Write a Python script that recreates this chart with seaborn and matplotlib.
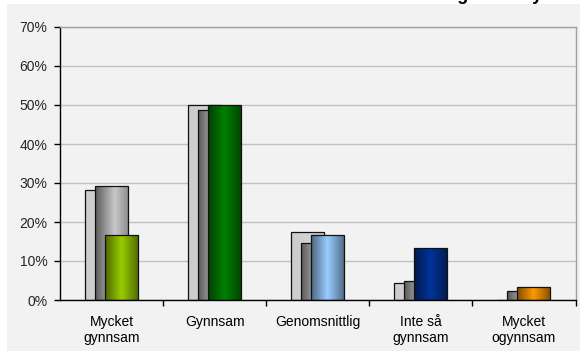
import numpy as np
import pandas as pd
import matplotlib
matplotlib.use('Agg')
import matplotlib.pyplot as plt
import seaborn as sns
from matplotlib.patches import Rectangle
from matplotlib.ticker import PercentFormatter, FixedLocator

# Data
categories = ["Mycket\ngynnsam", "Gynnsam", "Genomsnittlig", "Inte så\ngynnsam", "Mycket\nogynnsam"]
series_light = [0.282, 0.500, 0.174, 0.043, 0.000]
series_dark = [0.292, 0.487, 0.145, 0.049, 0.023]
series_color = [0.166, 0.500, 0.167, 0.133, 0.033]
category_colors = ["#99cc00", "#008000", "#99ccff", "#003399", "#ff9900"]

sns.set_style("white")
plt.rcParams['font.family'] = ['Liberation Sans', 'DejaVu Sans']

fig = plt.figure(figsize=(5.8, 3.51), dpi=100, facecolor='white')
# grey chart panel
fig.add_artist(Rectangle((7 / 580, 0), 1 - 7 / 580, 347 / 351, transform=fig.transFigure,
                         facecolor='#f2f2f2', edgecolor='none', zorder=-1))
ax = fig.add_axes([60 / 580, 51 / 351, 515.5 / 580, 273 / 351])
ax.set_facecolor('#f2f2f2')


def shade(color, profile):
    rgb = np.array(matplotlib.colors.to_rgb(color))
    t = np.linspace(0, 1, 64)
    f = np.interp(t, profile[0], profile[1])
    return np.clip(rgb[None, :] * f[:, None], 0, 1)[None, :, :]


def draw_series(values, offset, zbase, profile, color=None, palette=None):
    before = len(ax.patches)
    df = pd.DataFrame({'cat': categories, 'val': values})
    if palette is None:
        sns.barplot(data=df, x='cat', y='val', color=color, width=0.32,
                    order=categories, ax=ax, saturation=1)
    else:
        sns.barplot(data=df, x='cat', y='val', hue='cat', palette=palette,
                    width=0.32, order=categories, hue_order=categories,
                    legend=False, ax=ax, saturation=1)
    for p in ax.patches[before:]:
        p.set_x(p.get_x() + offset)
        face = p.get_facecolor()
        x0, w, h = p.get_x(), p.get_width(), p.get_height()
        if h > 0:
            im = ax.imshow(shade(face, profile), extent=[x0, x0 + w, 0, h],
                           aspect='auto', zorder=zbase, interpolation='bilinear')
            im.set_clip_path(p)
        p.set_facecolor('none')
        p.set_edgecolor('#111111')
        p.set_linewidth(0.9)
        p.set_zorder(zbase + 0.05)


draw_series(series_light, -0.097, 2.0, ([0, 0.5, 1], [0.97, 1.0, 0.95]), color='#d2d2d2')
draw_series(series_dark, 0.0, 2.2, ([0, 0.6, 1], [0.45, 1.0, 0.72]), color='#c8c8c8')
draw_series(series_color, 0.097, 2.4, ([0, 0.5, 1], [0.5, 1.0, 0.55]), palette=category_colors)

ax.set_xlim(-0.5, 4.5)
ax.set_ylim(0, 0.7)
ax.set_xlabel('')
ax.set_ylabel('')

ax.yaxis.set_major_locator(FixedLocator(np.arange(0, 0.71, 0.1)))
ax.yaxis.set_major_formatter(PercentFormatter(1.0, decimals=0))
ax.grid(axis='y', color='#c0c0c0', linewidth=1)
ax.set_axisbelow(True)

ax.xaxis.set_minor_locator(FixedLocator([0.5, 1.5, 2.5, 3.5, 4.5]))
ax.tick_params(axis='x', which='major', length=0, pad=11, labelsize=10, colors='black')
ax.tick_params(axis='x', which='minor', length=4, width=1, direction='out', color='black', bottom=True)
ax.tick_params(axis='y', which='major', length=4, width=1, direction='out', pad=5,
               labelsize=10, left=True, color='black')

for side in ['left', 'bottom']:
    ax.spines[side].set_color('black')
    ax.spines[side].set_linewidth(1)
for side in ['top', 'right']:
    ax.spines[side].set_visible(True)
    ax.spines[side].set_color('#a0a0a0')
    ax.spines[side].set_linewidth(1)

# title cut off at the top of the picture, only descenders show
fig.text(542 / 580, 1.0, "Bedömt marknadsläge i Dalby", ha='right', va='baseline',
         fontsize=13, fontweight='bold', color='black')

fig.savefig('out.png', dpi=100)
plt.close(fig)
